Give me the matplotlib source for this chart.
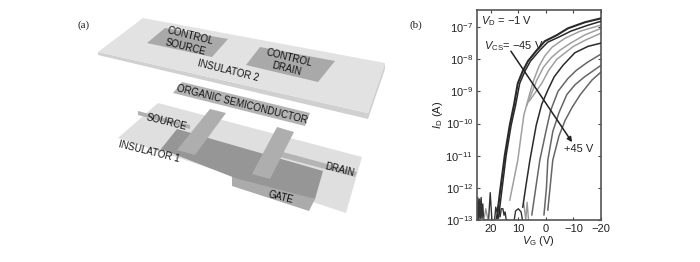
import matplotlib
matplotlib.use("Agg")
import matplotlib.pyplot as plt
import numpy as np
from matplotlib.patches import Polygon

plt.rcParams['font.family'] = ['Liberation Sans', 'DejaVu Sans']
plt.rcParams['mathtext.fontset'] = 'custom'
plt.rcParams['mathtext.rm'] = 'Liberation Sans'
plt.rcParams['mathtext.it'] = 'Liberation Sans:italic'
plt.rcParams['mathtext.default'] = 'regular'

# Transfer curves: gate voltage and log10 of drain current
vg_m45 = [17.8, 16.7, 14.9, 13.1, 11.6, 10.2, 8.4, 6.5, 3.3, 0.4, -4, -8, -14.2, -20]
log_m45 = [-12.94, -12.16, -10.98, -10.05, -9.43, -8.75, -8.37, -8.06, -7.72, -7.44, -7.25, -7.04, -6.85, -6.73]
vg_a = [17.2, 16.1, 14.4, 12.6, 11, 9.5, 7.6, 5.6, 2.2, -0.7, -5, -9, -15, -20]
log_a = [-12.94, -12.16, -10.98, -10.05, -9.43, -8.75, -8.37, -8.06, -7.72, -7.47, -7.3, -7.13, -6.95, -6.82]
vg_b = [13.1, 10.2, 8, 5.5, 4.4, 2.5, 0.4, -2.2, -6.9, -12.4, -20]
log_b = [-12.38, -11.14, -9.74, -8.96, -8.65, -8.22, -7.9, -7.63, -7.35, -7.13, -6.94]
vg_c = [6.9, 3.3, 0.9, -2, -5.1, -9, -14, -20]
log_c = [-9.43, -8.65, -8.25, -7.95, -7.72, -7.5, -7.25, -7.04]
vg_d = [6, 1.5, -1, -4, -7.3, -10, -14.5, -20]
log_d = [-9.3, -8.75, -8.35, -8, -7.78, -7.6, -7.4, -7.19]
vg_e = [8.4, 7, 5.8, 3.5, 1.5, -0.7, -3, -6.2, -10.5, -15.3, -20]
log_e = [-12.6, -11.8, -11.14, -10.05, -9.4, -8.96, -8.55, -8.19, -7.8, -7.6, -7.5]
vg_f = [5.1, 3.5, 2.2, 0, -1.7, -4.4, -8, -11, -15, -20]
log_f = [-12.84, -11.9, -11.14, -10.25, -9.6, -9.0, -8.6, -8.35, -8.1, -7.84]
vg_g = [0.7, -0.2, -0.7, -2.5, -4.8, -7.6, -10.5, -14, -20]
log_g = [-12.84, -12, -11.14, -10.25, -9.65, -9.1, -8.8, -8.55, -8.19]
vg_h = [-0.7, -1.5, -2.5, -4.7, -7, -9.5, -12.5, -16.7, -20]
log_h = [-12.69, -12, -11.14, -10.4, -9.9, -9.5, -9.1, -8.65, -8.4]
curve_vg = [vg_m45, vg_a, vg_b, vg_c, vg_d, vg_e, vg_f, vg_g, vg_h]
curve_log = [log_m45, log_a, log_b, log_c, log_d, log_e, log_f, log_g, log_h]

# Off-current noise at the floor
noise_vg = [25, 24.7, 24.4, 24.1, 23.8, 23.5, 23.2, 22.9, 22.6, 20.8, 20.2, 19.6, 18.6, 18.2, 17.7, 17.2, 16.6, 16.2, 15.6, 15.2, 14.8, 14.4, 13.8]
noise_log = [-13, -12.3, -13, -12.35, -12.95, -12.3, -12.95, -12.5, -13, -13, -12.15, -13, -13, -12.6, -12.75, -12.55, -12.9, -12.65, -12.65, -12.85, -12.75, -13, -13]
hump_vg = [11.5, 11, 10, 9, 8.5]
hump_log = [-13, -12.72, -12.65, -12.75, -13]
gray_left_vg = [22.5, 21.8, 21]
gray_left_log = [-13, -12.65, -13]
gray_right_vg = [8, 7.3, 6.8, 6.3]
gray_right_log = [-12.5, -13, -12.45, -13]

# Device schematic outlines, in picture pixels
insulator2_edge = [(98, 52), (368, 113), (385, 63), (385, 69), (368, 119), (98, 55)]
insulator2 = [(143, 18), (385, 63), (368, 113), (98, 52)]
control_source = [(147, 43), (165, 28), (228, 39), (212, 57)]
control_drain = [(246, 65), (260, 47), (335, 61), (318, 82)]
organic = [(173, 93), (182, 82), (310, 113), (305, 126)]
insulator1 = [(158, 103), (362, 157), (346, 213), (118, 138)]
gate_lip = [(232, 172), (315, 199), (309, 211), (232, 186)]
gate = [(177, 129), (323, 171), (315, 199), (235, 178), (161, 149)]
source_strip = [(138, 111), (190, 125), (190, 129), (138, 115)]
source_finger = [(210, 109), (226, 113), (195, 155), (177, 150)]
drain_finger = [(277, 127), (294, 132), (270, 179), (252, 174)]
drain_strip = [(283, 152), (357, 172), (355, 177), (280, 157)]

fig = plt.figure(figsize=(7.0, 2.62), dpi=100)

bg = fig.add_axes([0, 0, 1, 1])
bg.set_xlim(0, 700)
bg.set_ylim(262, 0)
bg.axis('off')

shapes = [(insulator2_edge, '#d0d0d0'), (insulator2, '#e2e2e2'), (control_source, '#a9a9a9'),
          (control_drain, '#a9a9a9'), (organic, '#b4b4b4'), (insulator1, '#dfdfdf'),
          (source_strip, '#b0b0b0'), (drain_strip, '#b4b4b4'), (gate_lip, '#ababab'),
          (gate, '#969696'), (source_finger, '#aeaeae'), (drain_finger, '#aeaeae')]
for pts, col in shapes:
    bg.add_patch(Polygon(pts, closed=True, fc=col, ec='none'))

lab = dict(fontsize=7, color='#111111', ha='center', va='center', rotation_mode='anchor')
bg.text(77, 25, '(a)', family='Liberation Serif', fontsize=8, ha='left', va='center', color='#222222')
bg.text(190, 36, 'CONTROL', rotation=-14, **lab)
bg.text(185, 47, 'SOURCE', rotation=-14, **lab)
bg.text(289, 58, 'CONTROL', rotation=-14, **lab)
bg.text(287, 69, 'DRAIN', rotation=-14, **lab)
bg.text(228, 71, 'INSULATOR 2', rotation=-14, **lab)
bg.text(242, 104, 'ORGANIC SEMICONDUCTOR', rotation=-14, **lab)
bg.text(166, 122, 'SOURCE', rotation=-14, **lab)
bg.text(149, 152, 'INSULATOR 1', rotation=-14, **lab)
bg.text(340, 170, 'DRAIN', rotation=-14, **lab)
bg.text(281, 197, 'GATE', rotation=-14, **lab)
bg.text(410, 25, '(b)', family='Liberation Serif', fontsize=8, ha='left', va='center', color='#222222')

ax = fig.add_axes([477 / 700, (262 - 220) / 262, 124 / 700, 210 / 262])
ax.patch.set_alpha(0)

for i, (vg, lg) in enumerate(zip(curve_vg, curve_log)):
    dark = i in (0, 1, 5)
    col = '#2a2a2a' if dark else ('#a0a0a0' if i < 5 else '#666666')
    lw = 1.5 if i == 0 else 1.1
    ax.plot(vg, 10.0 ** np.array(lg), color=col, lw=lw, zorder=3 if dark else 2)

ax.plot(noise_vg, 10.0 ** np.array(noise_log), color='#333333', lw=1.0)
ax.plot(hump_vg, 10.0 ** np.array(hump_log), color='#333333', lw=1.0)
ax.plot(gray_left_vg, 10.0 ** np.array(gray_left_log), color='#999999', lw=1.0)
ax.plot(gray_right_vg, 10.0 ** np.array(gray_right_log), color='#999999', lw=1.0)

ax.set_yscale('log')
ax.set_xlim(25, -20)
ax.set_ylim(1e-13, 10 ** -6.47)
ax.set_xticks([20, 10, 0, -10, -20])
ax.set_xticklabels(['20', '10', '0', '\u221210', '\u221220'])
ax.set_yticks([10.0 ** k for k in range(-13, -6)])
ax.minorticks_off()
ax.tick_params(direction='in', top=True, right=True, length=2, width=0.8, labelsize=8,
               color='#444444', labelcolor='#222222', pad=3)
for s in ax.spines.values():
    s.set_linewidth(1.2)
    s.set_color('#555555')

ax.set_xlabel('$\\mathit{V}_{G}$ (V)', fontsize=8, color='#222222', labelpad=0)
ax.set_ylabel('$\\mathit{I}_{D}$ (A)', fontsize=8, color='#222222', labelpad=0)

ax.text(0.03, 0.945, '$\\mathit{V}_{D}$ = \u22121 V', transform=ax.transAxes, fontsize=8, color='#222222', va='center')
ax.text(0.06, 0.83, '$\\mathit{V}_{CS}$= \u221245 V', transform=ax.transAxes, fontsize=8, color='#222222', va='center')
ax.text(0.70, 0.34, '+45 V', transform=ax.transAxes, fontsize=8, color='#222222', va='center')
ax.annotate('', xy=(-9.5, 10 ** -10.58), xytext=(12.7, 10 ** -7.75),
            arrowprops=dict(arrowstyle='-|>', color='#222222', lw=1.1, mutation_scale=7, shrinkA=0, shrinkB=0))

fig.savefig('out.png', dpi=100)
